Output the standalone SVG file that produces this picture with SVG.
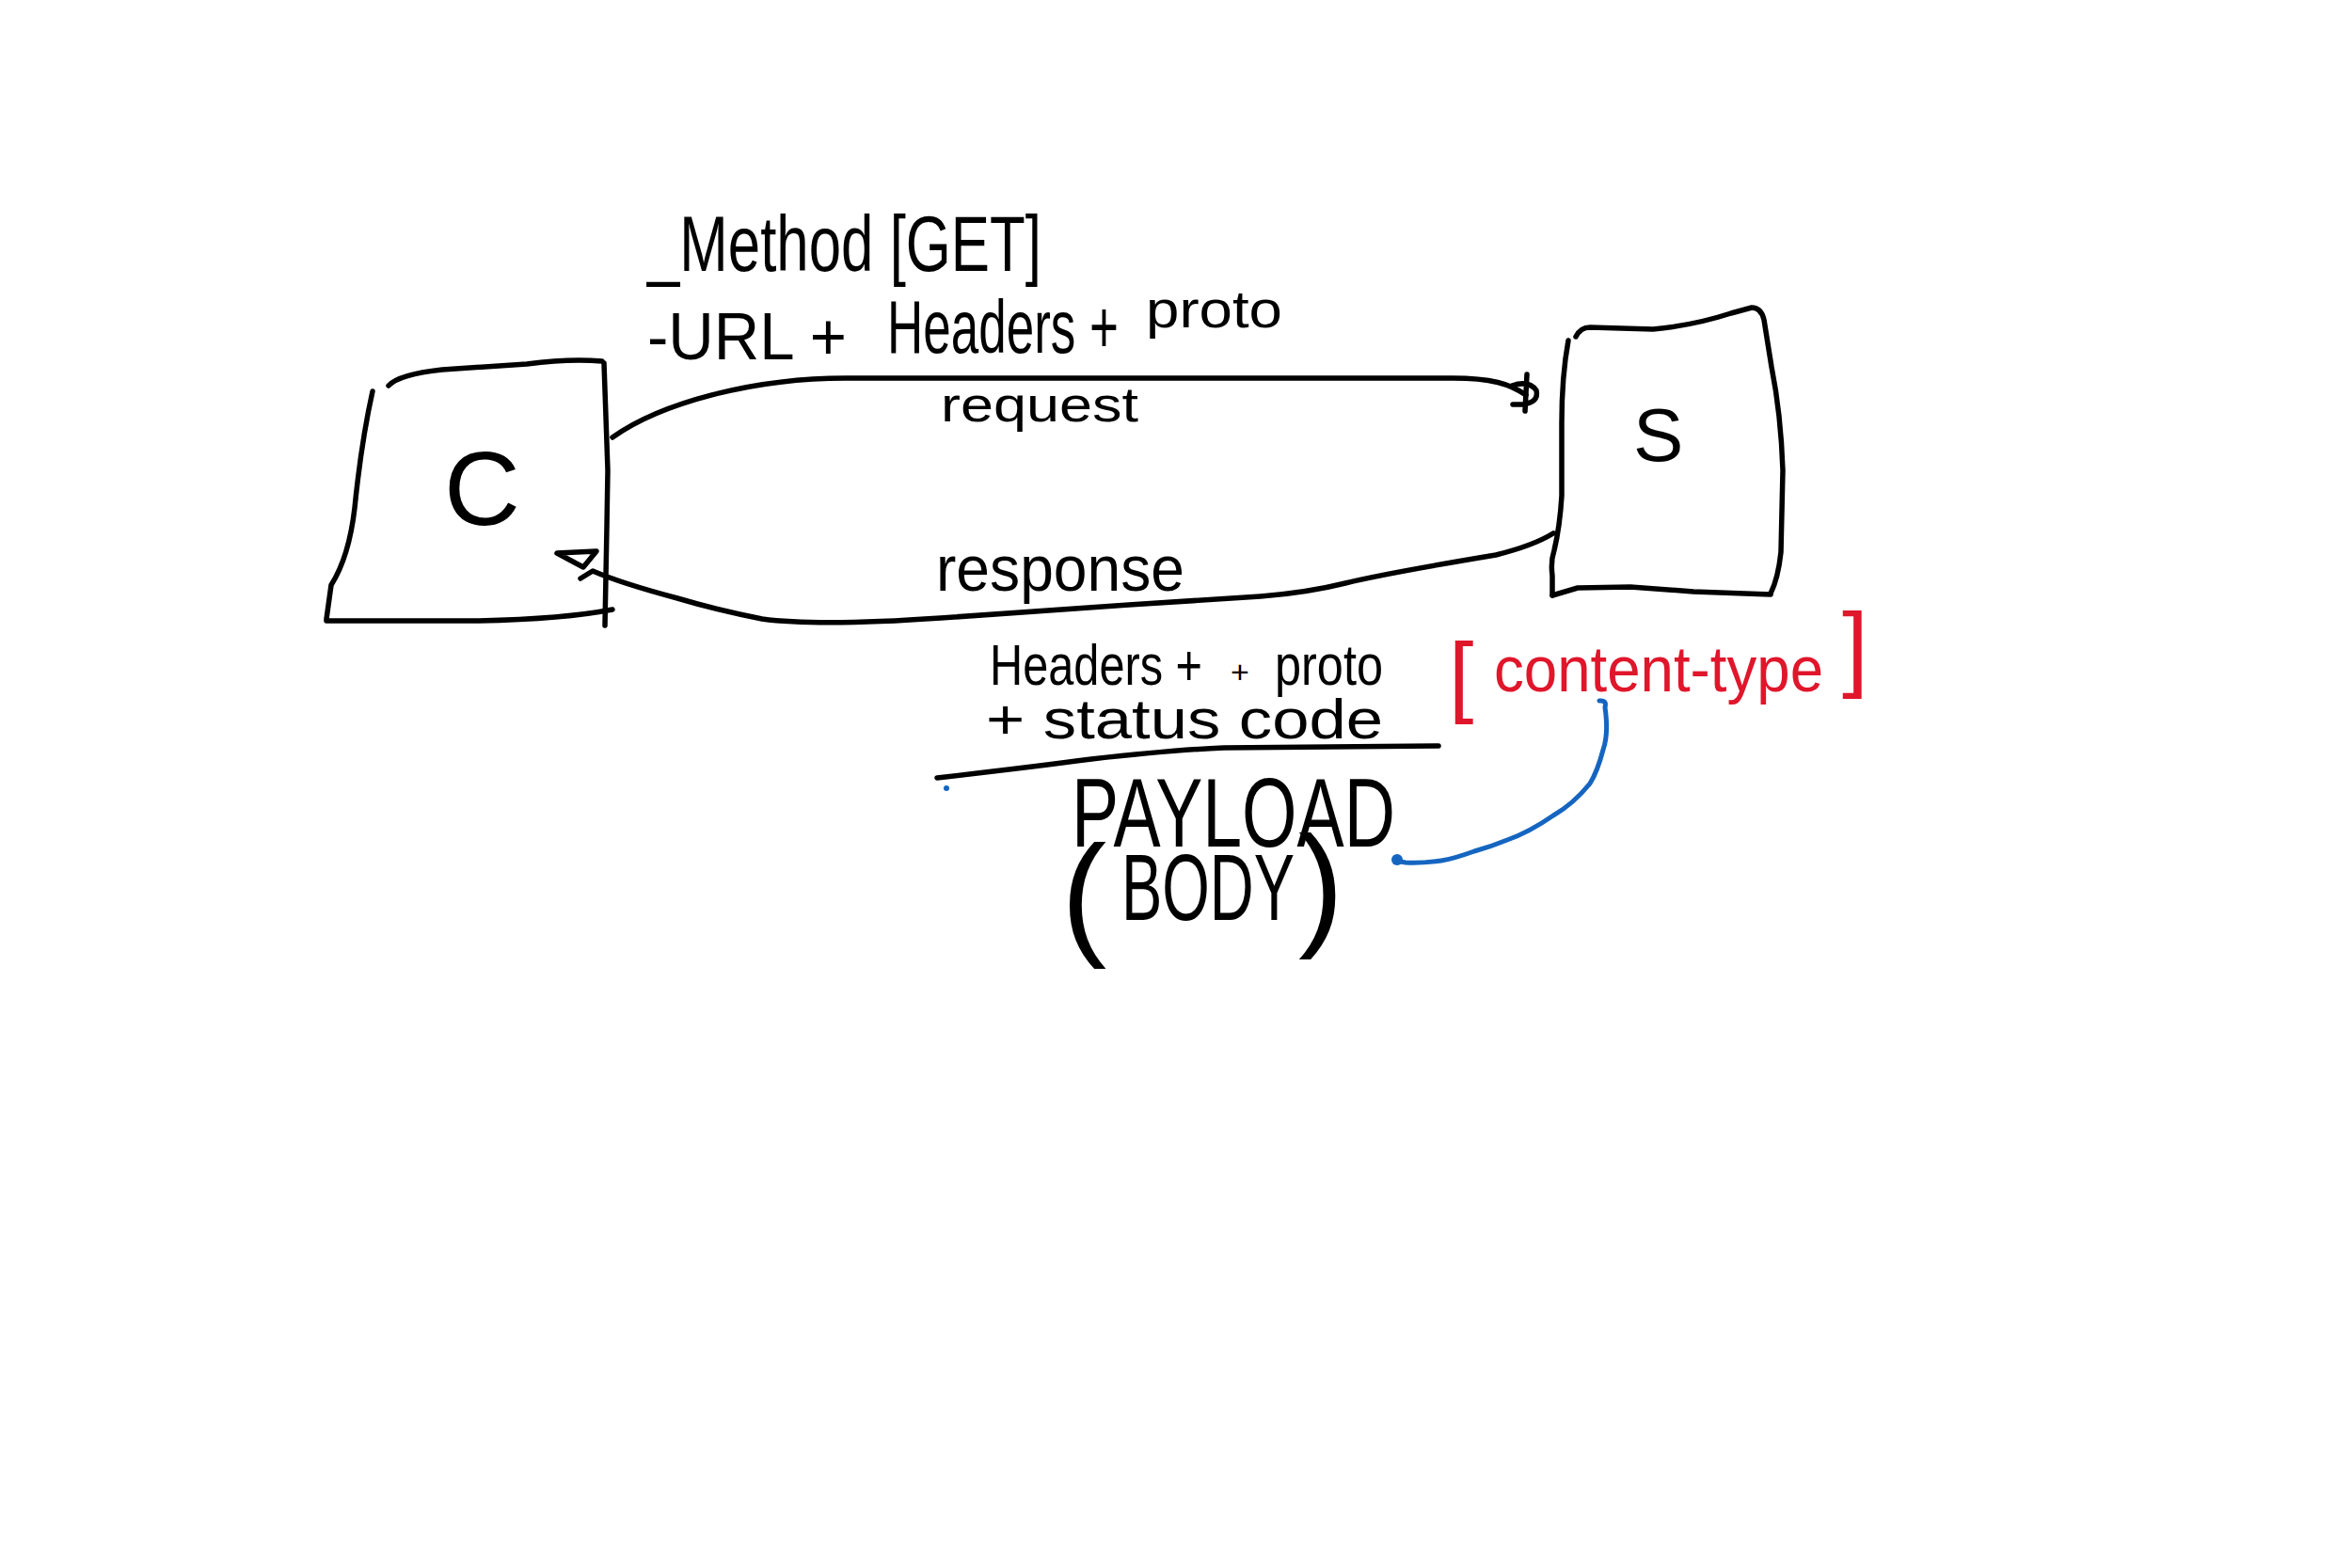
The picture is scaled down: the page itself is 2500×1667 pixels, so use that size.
<svg xmlns="http://www.w3.org/2000/svg" width="2500" height="1667" viewBox="0 0 2500 1667">
<style>
.ink{fill:none;stroke:#000;stroke-width:5.5;stroke-linecap:round;stroke-linejoin:round}
.blue{fill:none;stroke:#1565c0;stroke-width:5;stroke-linecap:round;stroke-linejoin:round}
.t{font-family:"Liberation Sans",Arial,sans-serif;fill:#000}
.r{font-family:"Liberation Sans",Arial,sans-serif;fill:#e0162b}
</style>
<rect width="2500" height="1667" fill="#fff"/>
<g id="node-client">
<path class="ink" d="M396,416 Q384,470 377,540 Q371,592 352,622 L347,658"/>
<path class="ink" d="M347,660 L509,660 Q600,658 651,648"/>
<path class="ink" d="M413,410 Q424,398 470,393 L560,387 Q605,381 640,384"/>
<path class="ink" d="M642,386 L646,500 L645,560 L643,665"/>
<text class="t" x="472" y="558" font-size="112">C</text>
</g>
<g id="node-server">
<path class="ink" d="M1667,362 Q1660,400 1660,450 L1660,527 Q1658,560 1652,585 Q1648,597 1650,612 L1650,633"/>
<path class="ink" d="M1675,358 Q1680,348 1690,348 L1757,350 Q1800,346 1840,333 L1862,327 Q1872,327 1875,340 L1883,390 Q1893,440 1895,500 L1893,587 Q1890,615 1882,631"/>
<path class="ink" d="M1882,632 L1800,629 L1733,624 L1677,625 L1650,633"/>
<text class="t" x="1736" y="490" font-size="80">S</text>
</g>
<g id="connectors">
<path class="ink" d="M651,465 C700,430 800,400 910,402 L1544,402 C1585,402 1605,408 1622,420"/>
<path class="ink" d="M1623,398 L1621,437 M1607,410 Q1625,404 1633,415 Q1636,428 1618,430 L1608,430"/>
<path class="ink" d="M1651,567 Q1630,580 1590,590 Q1470,610 1430,620 Q1390,630 1340,634 Q1250,640 1200,643 Q1100,650 1000,657 Q870,666 810,658 Q760,648 720,636 Q660,620 630,607 L617,615"/>
<path class="ink" d="M592,588 L634,586 L620,603 Z"/>
<path class="blue" d="M1700,745 Q1708,744 1706,752 Q1710,780 1704,797 Q1698,820 1690,833 Q1672,855 1651,867 Q1625,885 1602,893 Q1585,900 1567,905 Q1545,913 1532,915 Q1510,918 1494,917 L1483,915"/>
<circle cx="1485" cy="914" r="6" fill="#1565c0"/>
</g>
<g id="request-labels">
<text class="t" x="688" y="288" font-size="84" textLength="419" lengthAdjust="spacingAndGlyphs">_Method [GET]</text>
<text class="t" font-size="70"><tspan x="688" y="382" textLength="212" lengthAdjust="spacingAndGlyphs">-URL +</tspan><tspan x="943" y="375" font-size="80" textLength="246" lengthAdjust="spacingAndGlyphs">Headers +</tspan><tspan x="1218" y="348" font-size="56" textLength="145" lengthAdjust="spacingAndGlyphs">proto</tspan></text>
<text class="t" x="1000" y="448" font-size="52" textLength="210" lengthAdjust="spacingAndGlyphs">request</text>
</g>
<g id="response-labels">
<text class="t" x="995" y="628" font-size="68" textLength="264" lengthAdjust="spacingAndGlyphs">response</text>
<text class="t" font-size="62"><tspan x="1052" y="728" textLength="226" lengthAdjust="spacingAndGlyphs">Headers +</tspan><tspan x="1308" y="726" font-size="34">+</tspan><tspan x="1355" y="728" textLength="115" lengthAdjust="spacingAndGlyphs">proto</tspan></text>
<text class="t" x="1048" y="785" font-size="60" textLength="422" lengthAdjust="spacingAndGlyphs">+ status code</text>
<path class="ink" d="M996,827 Q1100,815 1160,807 Q1250,797 1301,795 L1529,793"/>
<circle cx="1006" cy="838" r="3" fill="#1565c0"/>
<text class="t" x="1139" y="900" font-size="104" textLength="344" lengthAdjust="spacingAndGlyphs">PAYLOAD</text>
<text class="t" font-size="100"><tspan x="1128" y="1000" font-size="145">(</tspan><tspan x="1192" y="978" textLength="184" lengthAdjust="spacingAndGlyphs">BODY</tspan><tspan x="1380" y="990" font-size="145">)</tspan></text>
</g>
<g id="content-type">
<text class="r" font-size="68"><tspan x="1540" y="750" font-size="95">[</tspan><tspan x="1588" y="735" textLength="350" lengthAdjust="spacingAndGlyphs">content-type</tspan><tspan x="1958" y="722" font-size="100">]</tspan></text>
</g>
</svg>
